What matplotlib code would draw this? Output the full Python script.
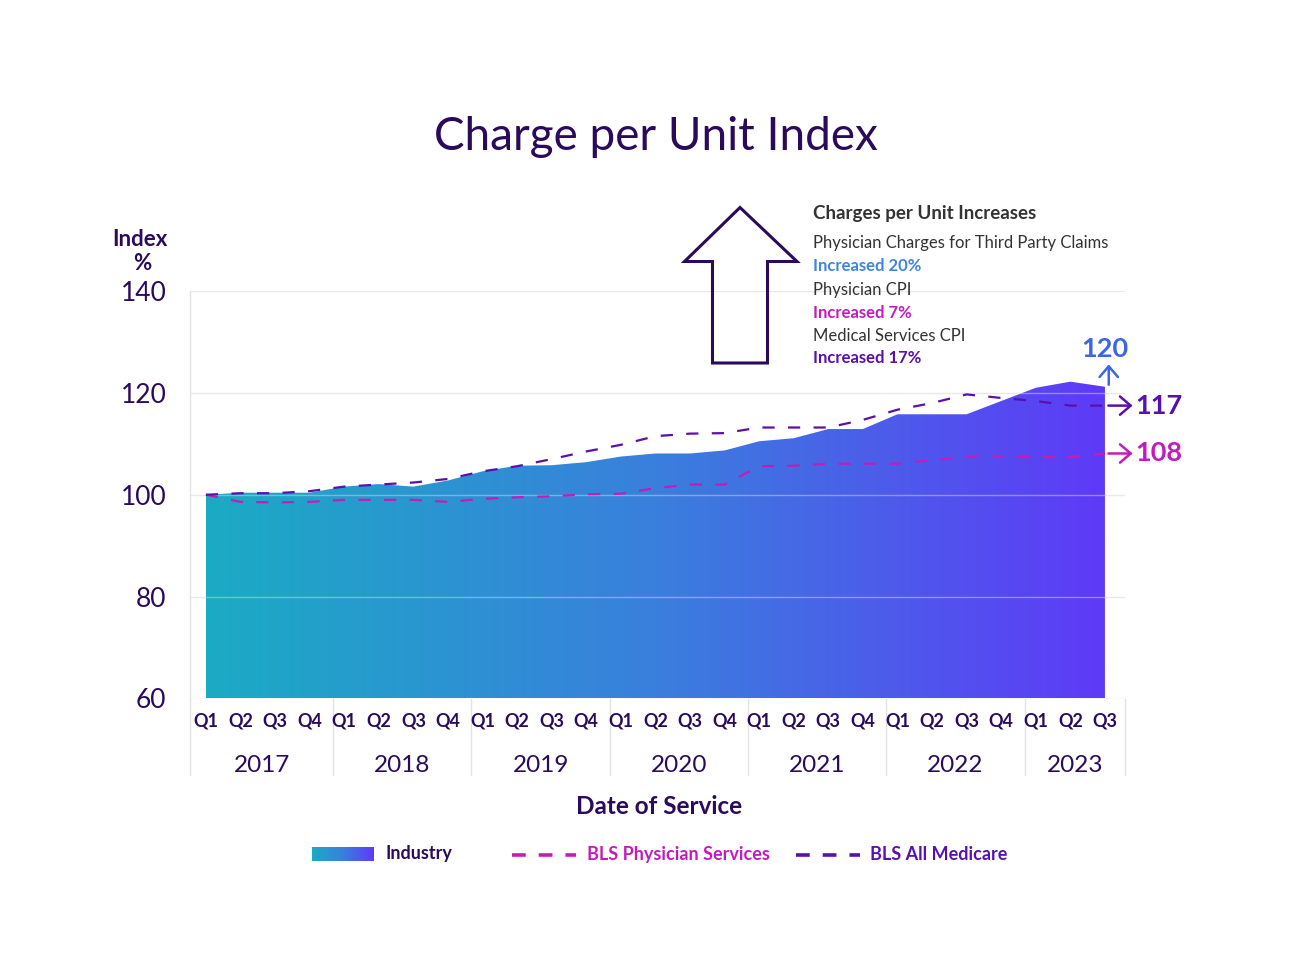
import numpy as np
import matplotlib
matplotlib.use("Agg")
import matplotlib.pyplot as plt
from matplotlib.colors import LinearSegmentedColormap
from matplotlib.patches import Polygon
from matplotlib.lines import Line2D

# ---------------- data ----------------
years = ["2017", "2018", "2019", "2020", "2021", "2022", "2023"]
quarter_labels = ["Q1", "Q2", "Q3", "Q4"] * 6 + ["Q1", "Q2", "Q3"]
industry = [100.0, 100.4, 100.4, 100.4, 101.6, 102.1, 101.6, 102.8, 104.6, 105.7,
            105.8, 106.4, 107.5, 108.1, 108.1, 108.7, 110.5, 111.1, 112.9, 112.9,
            115.8, 115.8, 115.8, 118.4, 121.0, 122.2, 121.2]
bls_medicare = [100.0, 100.3, 100.3, 100.7, 101.6, 102.0, 102.4, 103.1, 104.6, 105.6,
                107.0, 108.5, 109.8, 111.5, 112.0, 112.1, 113.2, 113.2, 113.2, 114.7,
                116.7, 118.0, 119.7, 119.0, 118.4, 117.5, 117.5]
bls_physician = [100.0, 98.6, 98.5, 98.6, 99.0, 99.0, 99.0, 98.6, 99.2, 99.5,
                 99.7, 100.1, 100.2, 101.3, 102.0, 102.0, 105.6, 105.7, 106.1, 106.1,
                 106.1, 106.8, 107.5, 107.6, 107.4, 107.4, 108.1]
end_labels = ["120", "117", "108"]
yticks = [60, 80, 100, 120, 140]

# ---------------- style ----------------
FONT = "Lato"
DARK = "#2B0A5C"
GREY_TXT = "#333333"
MAGENTA = "#C21DBB"
PURPLE = "#5A10AC"
BLUE = "#3D66E6"
BLUE_TXT = "#3F86E0"
GRID = "#E3E3E3"
plt.rcParams["font.family"] = [FONT, "DejaVu Sans"]

W, H = 1300, 971
fig = plt.figure(figsize=(W / 100, H / 100), dpi=100)
fig.patch.set_facecolor("white")

def fx(px):
    return px / W

def fy(py):
    return 1 - py / H

ax_l, ax_r, ax_t, ax_b = 190, 1125, 291, 698.5
ax = fig.add_axes([fx(ax_l), fy(ax_b), fx(ax_r - ax_l), (ax_b - ax_t) / H])
ax_h = ax_b - ax_t

x = np.arange(len(industry))
XLIM = (-0.46, 26.58)
YLIM = (60, 140)

grad_cmap = LinearSegmentedColormap.from_list(
    "ind", ["#1BABC4", "#3A7FDD", "#5E3AF7"])

# gradient area
poly = ax.fill_between(x, YLIM[0], industry, color="none", lw=0)
grad = np.linspace(0, 1, 512).reshape(1, -1)
im = ax.imshow(grad, cmap=grad_cmap, aspect="auto",
               extent=[x[0], x[-1], YLIM[0], YLIM[1]], origin="lower", zorder=1)
im.set_clip_path(poly.get_paths()[0], transform=ax.transData)

# lines
ax.plot(x, bls_physician, color=MAGENTA, lw=1.6, dashes=(5.5, 6), zorder=3)
ax.plot(x, bls_medicare, color=PURPLE, lw=1.6, dashes=(5.5, 6), zorder=3)

ax.set_xlim(*XLIM)
ax.set_ylim(*YLIM)

# grid
for yv in yticks:
    ax.axhline(yv, color="#D5D5D5", lw=1, alpha=0.5, zorder=2)

for s in ["top", "right", "bottom"]:
    ax.spines[s].set_visible(False)
ax.spines["left"].set_color(GRID)
ax.spines["left"].set_linewidth(1)

ax.set_yticks(yticks)
ax.set_yticklabels([str(v) for v in yticks], fontsize=19, color=DARK)
ax.tick_params(axis="y", length=0, pad=17)

ax.set_xticks(x)
ax.set_xticklabels(quarter_labels, fontsize=13, fontweight="bold", color=DARK)
ax.tick_params(axis="x", length=0, pad=10)

# year separators & labels
trans = ax.get_xaxis_transform()
sep_off = 0.68
bounds = [XLIM[0]] + [4 * (i + 1) - 1 + sep_off for i in range(6)] + [XLIM[1]]
sep_bottom = -(775 - ax_b) / ax_h
for b in bounds:
    ax.plot([b, b], [0, sep_bottom], transform=trans, color=GRID, lw=1,
            clip_on=False, zorder=0)
for i, yr in enumerate(years):
    ax.text((bounds[i] + bounds[i + 1]) / 2, -(765 - ax_b) / ax_h, yr,
            transform=trans, ha="center", va="center", fontsize=17.5, color=DARK)

# end annotations
last = len(industry) - 1
arrow_kw = dict(arrowstyle="->,head_length=0.35,head_width=0.3", lw=1.8,
                mutation_scale=22, shrinkA=0, shrinkB=0)
ax.annotate("", xy=(last + 0.11, industry[-1] + 4.4), xytext=(last + 0.11, industry[-1] + 0.4),
            arrowprops=dict(color=BLUE, **arrow_kw), annotation_clip=False)
ax.annotate(end_labels[0], xy=(last, industry[-1]), xytext=(0, 27.5), textcoords="offset points",
            ha="center", va="center", fontsize=19.5, fontweight="bold", color=BLUE,
            annotation_clip=False)
for val, lab, col in [(bls_medicare[-1], end_labels[1], PURPLE),
                      (bls_physician[-1], end_labels[2], MAGENTA)]:
    ax.annotate("", xy=(last + 0.8, val), xytext=(last + 0.1, val),
                arrowprops=dict(color=col, **arrow_kw), annotation_clip=False)
    ax.text(last + 0.88, val, lab, ha="left", va="center", fontsize=19.5,
            fontweight="bold", color=col, clip_on=False)

# title, axis labels
fig.text(fx(656), fy(137), "Charge per Unit Index", ha="center", va="center",
         fontsize=33, color=DARK)
fig.text(fx(140), fy(239), "Index", ha="center", va="center", fontsize=16,
         fontweight="bold", color=DARK)
fig.text(fx(142), fy(263), "%", ha="center", va="center", fontsize=16,
         fontweight="bold", color=DARK)
fig.text(fx(659), fy(806), "Date of Service", ha="center", va="center", fontsize=17.5,
         fontweight="bold", color=DARK)

# big outlined arrow
arrow_pts = [(740, 207.5), (797, 261.5), (767.5, 261.5), (767.5, 363),
             (712.5, 363), (712.5, 261.5), (684.5, 261.5)]
fig.patches.append(Polygon([(fx(a), fy(b)) for a, b in arrow_pts], closed=True,
                           fill=False, edgecolor=DARK, lw=2.2,
                           transform=fig.transFigure, joinstyle="miter"))

# info text block
tx = fx(813)
info = [
    (213, "Charges per Unit Increases", "bold", GREY_TXT, 13.5),
    (243, "Physician Charges for Third Party Claims", "normal", GREY_TXT, 12),
    (266, "Increased 20%", "bold", BLUE_TXT, 12),
    (290, "Physician CPI", "normal", GREY_TXT, 12),
    (313, "Increased 7%", "bold", MAGENTA, 12),
    (336, "Medical Services CPI", "normal", GREY_TXT, 12),
    (358, "Increased 17%", "bold", PURPLE, 12),
]
for py, s, w, c, fs in info:
    fig.text(tx, fy(py), s, ha="left", va="center", fontsize=fs, fontweight=w, color=c)

# legend
lax = fig.add_axes([fx(312), fy(861), fx(62), 14 / H])
lax.imshow(grad, cmap=grad_cmap, aspect="auto")
lax.axis("off")
fig.text(fx(386), fy(853), "Industry", ha="left", va="center", fontsize=13,
         fontweight="bold", color=DARK)
for x0, x1, col, lab, tx0 in [(512, 576, MAGENTA, "BLS Physician Services", 587),
                               (796, 860, PURPLE, "BLS All Medicare", 870)]:
    fig.lines.append(Line2D([fx(x0), fx(x1)], [fy(855), fy(855)], transform=fig.transFigure,
                            color=col, lw=2.6, dashes=(3.8, 3.6)))
    fig.text(fx(tx0), fy(854), lab, ha="left", va="center", fontsize=13,
             fontweight="bold", color=col)

fig.savefig("out.png", dpi=100, facecolor="white")
